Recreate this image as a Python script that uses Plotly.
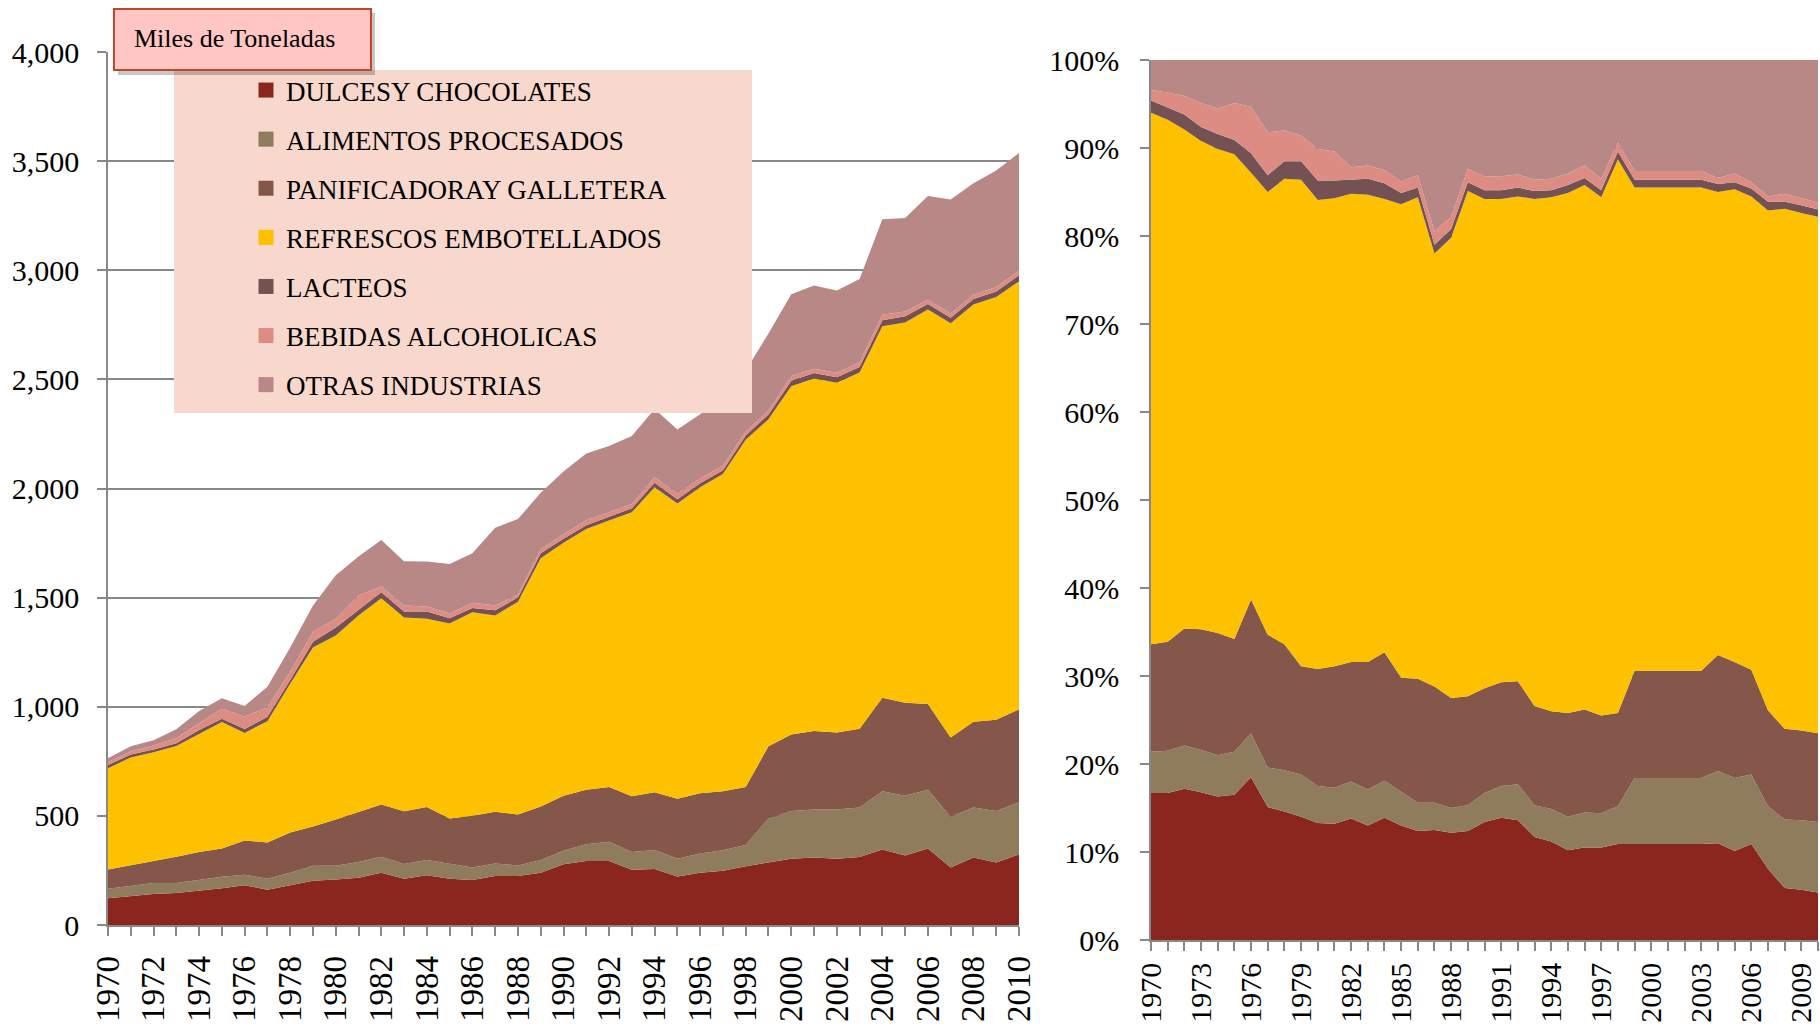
import plotly.graph_objects as go

W, H = 1820, 1029

years = list(range(1970, 2011))

names = ["DULCESY CHOCOLATES", "ALIMENTOS PROCESADOS", "PANIFICADORAY GALLETERA",
         "REFRESCOS EMBOTELLADOS", "LACTEOS", "BEBIDAS ALCOHOLICAS", "OTRAS INDUSTRIAS"]
colors = ["#8A261E", "#8E7C5D", "#84574A", "#FDC100", "#745254", "#DD8C84", "#B88886"]

# ---- Left panel: thousands of tonnes ----
dulces = [123, 133, 142, 147, 157, 168, 182, 162, 182, 203, 208, 217, 239, 212, 228, 212, 206, 225, 225, 239,
          278, 293, 293, 253, 257, 222, 239, 248, 269, 286, 304, 309, 304, 311, 346, 318, 351, 264, 309, 286, 323]
alimentos = [43, 46, 50, 46, 49, 53, 48, 50, 57, 68, 63, 72, 74, 68, 70, 70, 57, 57, 48, 59,
             62, 77, 88, 82, 87, 82, 89, 94, 98, 201, 218, 220, 225, 227, 267, 274, 269, 232, 229, 236, 239]
panificadora = [88, 94, 103, 120, 129, 129, 157, 166, 185, 180, 212, 230, 239, 241, 243, 206, 238, 237, 233, 245,
                252, 250, 251, 255, 264, 274, 276, 271, 265, 332, 351, 360, 353, 361, 428, 426, 393, 363, 393, 419, 426]
refrescos = [464, 495, 497, 507, 540, 580, 493, 556, 681, 820, 843, 899, 945, 888, 862, 893, 932, 899, 975, 1137,
             1160, 1194, 1221, 1301, 1398, 1353, 1402, 1453, 1591, 1498, 1596, 1615, 1603, 1633, 1702, 1743, 1807,
             1898, 1912, 1937, 1961]
lacteos = [15, 13, 12, 13, 19, 15, 18, 20, 18, 27, 37, 24, 28, 27, 33, 24, 20, 24, 20, 23,
           18, 18, 18, 18, 20, 20, 18, 18, 20, 22, 25, 25, 25, 25, 28, 28, 25, 25, 25, 25, 28]
bebidas = [13, 14, 19, 23, 30, 46, 56, 44, 37, 46, 40, 68, 26, 28, 23, 22, 24, 22, 13, 19,
           20, 22, 20, 20, 25, 25, 22, 20, 18, 18, 20, 20, 20, 20, 25, 22, 20, 20, 20, 20, 20]
otras = [18, 24, 24, 41, 56, 48, 50, 94, 111, 120, 199, 179, 213, 203, 206, 227, 226, 356, 346, 258,
         288, 306, 304, 311, 313, 294, 294, 318, 279, 353, 376, 381, 377, 383, 438, 428, 475, 522, 511, 534, 540]

# ---- Right panel: shares (%) ----
dulces_pct = [16.7, 16.7, 17.2, 16.8, 16.3, 16.5, 18.5, 15.1, 14.6, 14.0, 13.3, 13.2, 13.8, 13.0, 13.9, 13.0, 12.4,
              12.5, 12.2, 12.4, 13.4, 13.9, 13.6, 11.7, 11.2, 10.2, 10.5, 10.5, 10.9, 10.9, 10.9, 10.9, 10.9, 10.9,
              11.0, 10.1, 10.9, 8.1, 5.9, 5.7, 5.4]
alimentos_pct = [4.7, 4.8, 4.9, 4.8, 4.7, 4.9, 5.0, 4.5, 4.7, 4.8, 4.2, 4.1, 4.2, 4.1, 4.2, 3.9, 3.2, 3.1, 2.8, 2.9,
                 3.3, 3.6, 4.1, 3.6, 3.7, 3.8, 4.0, 3.9, 4.3, 7.5, 7.5, 7.5, 7.5, 7.5, 8.2, 8.3, 7.9, 7.1, 7.8, 7.9, 8.0]
panificadora_pct = [12.2, 12.4, 13.3, 13.7, 13.9, 12.8, 15.2, 15.1, 14.3, 12.3, 13.3, 13.8, 13.6, 14.5, 14.6, 12.9,
                    14.1, 13.2, 12.5, 12.4, 11.9, 11.8, 11.7, 11.3, 11.1, 11.8, 11.7, 11.1, 10.6, 12.2, 12.2, 12.2,
                    12.2, 12.2, 13.2, 13.2, 11.9, 10.9, 10.3, 10.2, 10.1]
refrescos_pct = [60.4, 59.3, 56.7, 55.5, 55.0, 55.1, 48.5, 50.3, 52.9, 55.3, 53.3, 53.2, 53.2, 53.1, 51.5, 53.8,
                 54.7, 49.2, 52.3, 57.4, 55.6, 54.9, 55.1, 57.6, 58.4, 59.1, 59.6, 58.9, 62.9, 54.9, 54.9, 54.9,
                 54.9, 54.9, 52.6, 53.7, 53.8, 56.8, 59.1, 58.8, 58.7]
lacteos_pct = [1.4, 1.4, 1.7, 1.6, 1.7, 1.6, 2.2, 1.9, 2.0, 2.1, 2.2, 2.0, 1.6, 1.8, 1.8, 1.3, 1.1, 1.0, 1.0, 1.0,
               1.0, 1.0, 1.0, 0.9, 0.8, 0.9, 0.8, 0.8, 0.9, 0.9, 0.9, 0.9, 0.9, 0.9, 0.9, 0.8, 0.9, 1.0, 0.8, 0.9, 0.8]
bebidas_pct = [1.2, 1.7, 2.1, 2.7, 2.9, 4.2, 5.3, 4.9, 3.5, 2.9, 3.6, 3.3, 1.4, 1.5, 1.5, 1.3, 1.4, 1.5, 1.4, 1.5,
               1.6, 1.6, 1.5, 1.3, 1.3, 1.3, 1.4, 1.3, 1.0, 1.0, 1.0, 1.0, 1.0, 1.0, 0.7, 1.0, 0.7, 0.6, 0.9, 0.8, 0.8]
otras_pct = [3.4, 3.7, 4.1, 4.9, 5.5, 4.9, 5.3, 8.2, 8.0, 8.6, 10.1, 10.4, 12.2, 12.0, 12.5, 13.8, 13.1, 19.5, 17.8,
             12.4, 13.2, 13.2, 13.0, 13.6, 13.5, 12.9, 12.0, 13.5, 9.4, 12.6, 12.6, 12.6, 12.6, 12.6, 13.4, 12.9,
             13.9, 15.5, 15.2, 15.7, 16.2]

left_tick_labels = [str(y) if y % 2 == 0 else "" for y in years]
right_tick_labels = [str(y) if (y - 1970) % 3 == 0 and y < 2010 else "" for y in years]
left_y_ticks = [0, 500, 1000, 1500, 2000, 2500, 3000, 3500, 4000]
left_y_labels = ["0", "500", "1,000", "1,500", "2,000", "2,500", "3,000", "3,500", "4,000"]
right_y_ticks = [0, 10, 20, 30, 40, 50, 60, 70, 80, 90, 100]
right_y_labels = ["0%", "10%", "20%", "30%", "40%", "50%", "60%", "70%", "80%", "90%", "100%"]

abs_series = [dulces, alimentos, panificadora, refrescos, lacteos, bebidas, otras]
pct_series = [dulces_pct, alimentos_pct, panificadora_pct, refrescos_pct, lacteos_pct, bebidas_pct, otras_pct]


def px_x(p):
    return min(1.0, max(0.0, p / W))


def px_y(p):
    return min(1.0, max(0.0, 1 - p / H))


FONT = "Liberation Serif"
GRID = "#888888"

fig = go.Figure()

for name, col, vals in zip(names, colors, abs_series):
    fig.add_trace(go.Scatter(x=years, y=vals, name=name, mode="lines", stackgroup="abs",
                             line=dict(width=0, color=col), fillcolor=col, showlegend=False,
                             xaxis="x", yaxis="y", hoverinfo="skip"))

for name, col, vals in zip(names, colors, pct_series):
    fig.add_trace(go.Scatter(x=years, y=vals, name=name, mode="lines", stackgroup="pct", groupnorm="percent",
                             line=dict(width=0, color=col), fillcolor=col, showlegend=False,
                             xaxis="x2", yaxis="y2", hoverinfo="skip"))

# legend entries (square swatches)
for i, (name, col) in enumerate(zip(names, colors)):
    fig.add_trace(go.Scatter(x=[None], y=[None], name=name, mode="markers",
                             marker=dict(symbol="square", size=15, color=col),
                             legendgroup="g%d" % i, showlegend=True, xaxis="x", yaxis="y"))

ytickfont = dict(family=FONT, size=30, color="#000000")
xtickfont = dict(family=FONT, size=33, color="#000000")
x2tickfont = dict(family=FONT, size=30, color="#000000")

fig.update_layout(
    width=W, height=H,
    margin=dict(l=0, r=0, t=0, b=0, autoexpand=False),
    paper_bgcolor="white", plot_bgcolor="rgba(0,0,0,0)",
    showlegend=True,
    xaxis=dict(domain=[px_x(108), px_x(1019)], range=[1970, 2010], tickmode="array",
               tickvals=years, ticktext=left_tick_labels, tickangle=-90, tickfont=xtickfont,
               ticks="outside", ticklen=9, tickcolor=GRID, tickwidth=1.5, ticklabelstandoff=7,
               showline=True, linecolor=GRID, linewidth=1.5, showgrid=False, zeroline=False,
               anchor="y", automargin=False),
    yaxis=dict(domain=[px_y(925), px_y(52)], range=[0, 4000], tickmode="array",
               tickvals=left_y_ticks, ticktext=left_y_labels, tickfont=ytickfont,
               ticks="outside", ticklen=9, tickcolor=GRID, tickwidth=1.5, ticklabelstandoff=12,
               showline=True, linecolor=GRID, linewidth=1.5, showgrid=True, gridcolor=GRID,
               gridwidth=1.5, zeroline=False, anchor="x", automargin=False),
    xaxis2=dict(domain=[px_x(1151), px_x(1818)], range=[1970, 2010], tickmode="array",
                tickvals=years, ticktext=right_tick_labels, tickangle=-90, tickfont=x2tickfont,
                ticks="outside", ticklen=9, tickcolor=GRID, tickwidth=1.5, ticklabelstandoff=0,
                showline=True, linecolor=GRID, linewidth=1.5, showgrid=False, zeroline=False,
                anchor="y2", automargin=False),
    yaxis2=dict(domain=[px_y(940), px_y(60)], range=[0, 100], tickmode="array",
                tickvals=right_y_ticks, ticktext=right_y_labels, tickfont=ytickfont,
                ticks="outside", ticklen=9, tickcolor=GRID, tickwidth=1.5, ticklabelstandoff=15,
                showline=True, linecolor=GRID, linewidth=1.5, showgrid=True, gridcolor=GRID,
                gridwidth=1.5, zeroline=False, anchor="x2", automargin=False),
    legend=dict(x=px_x(246), y=px_y(66), xanchor="left", yanchor="top",
                bgcolor="rgba(0,0,0,0)", borderwidth=0, traceorder="grouped",
                tracegroupgap=11, itemwidth=30,
                font=dict(family=FONT, size=27, color="#000000")),
    shapes=[
        dict(type="rect", xref="paper", yref="paper", x0=px_x(174), x1=px_x(752), y0=px_y(413), y1=px_y(70),
             fillcolor="#F8D8CC", line=dict(width=0), layer="above"),
        dict(type="rect", xref="paper", yref="paper", x0=px_x(118), x1=px_x(375), y0=px_y(75), y1=px_y(13),
             fillcolor="rgba(0,0,0,0.22)", line=dict(width=0), layer="above"),
        dict(type="rect", xref="paper", yref="paper", x0=px_x(114), x1=px_x(371), y0=px_y(70), y1=px_y(9),
             fillcolor="#FFC6C3", line=dict(width=2, color="#C0472C"), layer="above"),
    ],
    annotations=[
        dict(text="Miles de Toneladas", xref="paper", yref="paper", x=px_x(132), y=px_y(38),
             xanchor="left", yanchor="middle", showarrow=False,
             font=dict(family=FONT, size=26, color="#000000")),
    ],
)

# remove the browser's default 8px page margin so the figure fills the window exactly
fig.write_html("out.html", config={"displayModeBar": False},
               post_script="document.body.style.margin='0';document.body.style.overflow='hidden';")
